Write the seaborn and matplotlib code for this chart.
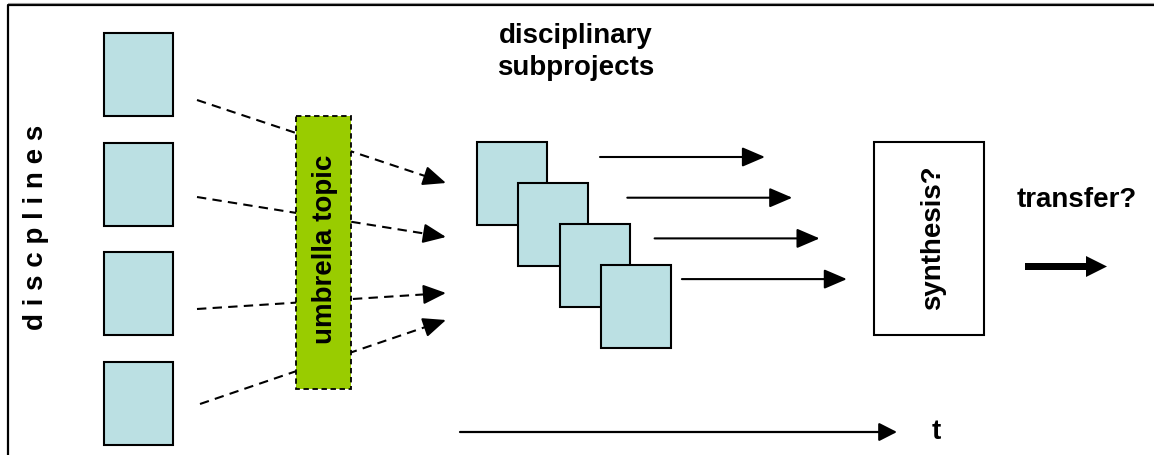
import matplotlib.pyplot as plt
import matplotlib.patches as mpatches
import seaborn as sns

# labels of the diagram
title_text = 'Figure 1: Project design of the study'
discipline_label = 'd i s c p l i n e s'
umbrella_label = 'umbrella topic'
subproject_label = 'disciplinary\nsubprojects'
synthesis_label = 'synthesis?'
transfer_label = 'transfer?'
time_label = 't'
n_disciplines = 4
n_subprojects = 4

sns.set_theme(style='white')
plt.rcParams['font.family'] = ['Liberation Sans', 'DejaVu Sans']
plt.rcParams['text.color'] = 'black'

box_blue = '#BBE0E3'
green = '#99CC00'
fs = 20

fig = plt.figure(figsize=(11.54, 4.55), dpi=100)
ax = fig.add_axes([0, 0, 1, 1])
ax.set_xlim(0, 1154)
ax.set_ylim(455, 0)
ax.axis('off')

# frame (left and top edges only visible)
ax.plot([8, 8, 1154], [455, 5, 5], color='black', lw=1.6, solid_capstyle='butt')
ax.plot([8, 1154], [3, 3], color='#999999', lw=0.8)

# caption above the frame, cut off like in the source page
ax.text(8, -7, title_text, family='Liberation Serif', fontsize=21, fontweight='bold',
        fontstyle='italic', ha='left', va='baseline', clip_on=False)


def solid_head(x0, y0, x1, y1, **kw):
    ax.annotate('', xy=(x1, y1), xytext=(x0, y0),
                arrowprops=dict(arrowstyle='-|>,head_length=0.7,head_width=0.3',
                                lw=1.5, color='black', shrinkA=0, shrinkB=0,
                                mutation_scale=20), **kw)


# discipline boxes
disc_tops = [33 + i * 109.7 for i in range(n_disciplines)]
for top in disc_tops:
    ax.add_patch(mpatches.Rectangle((104, top), 69, 83, facecolor=box_blue,
                                    edgecolor='black', lw=1.5, zorder=2))

ax.text(36, 227, discipline_label, rotation=90, ha='center', va='center',
        fontsize=20, fontweight='bold')

# dashed arrows from disciplines to subprojects
starts = [(197, 100), (197, 197), (197, 309), (200, 404)]
ends = [(446, 183), (446, 237), (446, 293), (446, 320)]
for (x0, y0), (x1, y1) in zip(starts, ends):
    dx, dy = x1 - x0, y1 - y0
    d = (dx ** 2 + dy ** 2) ** 0.5
    hx, hy = x1 - dx / d * 14, y1 - dy / d * 14
    ax.plot([x0, hx], [y0, hy], color='black', lw=1.5, ls=(0, (4.5, 3)), zorder=1)
    solid_head(hx - dx / d, hy - dy / d, x1, y1, zorder=1)

# umbrella topic box
ax.add_patch(mpatches.Rectangle((296, 116), 55, 273, facecolor=green,
                                edgecolor='black', lw=1.3, ls=(0, (3, 2)), zorder=3))
ax.text(325, 249, umbrella_label, rotation=90, ha='center', va='center',
        fontsize=fs, fontweight='bold', zorder=4)

# heading of subprojects
ax.text(576, 52, subproject_label, ha='center', va='center', fontsize=fs,
        fontweight='bold', linespacing=1.3)

# subproject boxes and solid arrows
for i in range(n_subprojects):
    x = 477 + i * 41.3
    y = 142 + i * 41
    ax.add_patch(mpatches.Rectangle((x, y), 70, 83, facecolor=box_blue,
                                    edgecolor='black', lw=1.5, zorder=5 + i))
    ay = 157 + i * 40.7
    solid_head(600 + i * 27.3, ay, 765 + i * 27.3, ay)

# synthesis box
ax.add_patch(mpatches.Rectangle((874, 142), 110, 193, facecolor='white',
                                edgecolor='black', lw=1.5))
ax.text(933, 238, synthesis_label, rotation=90, ha='center', va='center',
        fontsize=fs, fontweight='bold')

# transfer
ax.text(1077, 200, transfer_label, ha='center', va='center', fontsize=fs,
        fontweight='bold')
ax.add_patch(mpatches.FancyArrow(1025, 266.5, 82, 0, width=7, head_width=21,
                                 head_length=21, length_includes_head=True,
                                 color='black', lw=0))

# time axis
ax.annotate('', xy=(897, 432), xytext=(460, 432),
            arrowprops=dict(arrowstyle='-|>,head_length=0.55,head_width=0.28',
                            lw=1.6, color='black', shrinkA=0, shrinkB=0,
                            mutation_scale=20))
ax.text(936, 432, time_label, ha='center', va='center', fontsize=fs,
        fontweight='bold')

fig.savefig('out.png', dpi=100)
